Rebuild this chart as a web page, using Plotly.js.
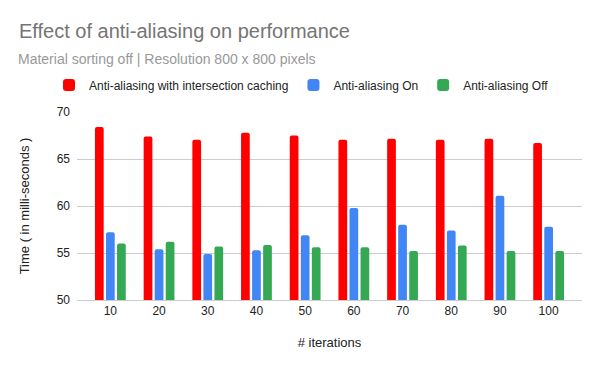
<!DOCTYPE html>
<html>
<head>
<meta charset="utf-8">
<script src="https://cdn.plot.ly/plotly-3.0.1.min.js"></script>
<style>html,body{margin:0;padding:0;background:#fff;}#chart{width:600px;height:371px;}</style>
</head>
<body>
<div id="chart"></div>
<script>
const iterations = ["10","20","30","40","50","60","70","80","90","100"];
const aaCaching = [68.4, 67.4, 67.05, 67.8, 67.5, 67.05, 67.15, 67.05, 67.15, 66.7];
const aaOn = [57.2, 55.4, 54.9, 55.3, 56.9, 59.8, 58.0, 57.4, 61.1, 57.8];
const aaOff = [56.0, 56.2, 55.7, 55.85, 55.6, 55.6, 55.2, 55.8, 55.2, 55.2];
const seriesNames = ["Anti-aliasing with intersection caching", "Anti-aliasing On", "Anti-aliasing Off"];
const colors = ["#ff0000", "#4285f4", "#34a853"];

const font = "'Liberation Sans', Arial, sans-serif";
const data = [aaCaching, aaOn, aaOff].map((vals, i) => ({
  type: "bar",
  x: iterations,
  y: vals,
  name: seriesNames[i],
  marker: {color: colors[i], cornerradius: 2},
  hoverinfo: "none"
}));

const layout = {
  width: 600, height: 371,
  margin: {l: 77, r: 18, t: 112, b: 71},
  paper_bgcolor: "#fff", plot_bgcolor: "#fff",
  font: {family: font, size: 12, color: "#222"},
  barmode: "group",
  bargap: 0.32,
  bargroupgap: 0.21,
  showlegend: true,
  title: {
    text: "Effect of anti-aliasing on performance",
    font: {family: font, size: 20, color: "#757575"},
    x: 19/600, xref: "container", xanchor: "left",
    y: 1 - 30.5/371, yref: "container", yanchor: "middle"
  },
  annotations: [{
    text: "Material sorting off | Resolution 800 x 800 pixels",
    font: {family: font, size: 14, color: "#999999"},
    xref: "paper", yref: "paper",
    x: (16-77)/505, xanchor: "left",
    y: 1 + (112-58.5)/188, yanchor: "middle",
    showarrow: false
  }],
  legend: {
    orientation: "h",
    xref: "container", yref: "container",
    x: 49/600, xanchor: "left",
    y: 1 - 85/371, yanchor: "middle",
    font: {family: font, size: 12, color: "#222"},
    itemwidth: 30,
    traceorder: "normal"
  },
  xaxis: {
    type: "category",
    range: [-0.685, 9.685],
    showgrid: false,
    showline: true, linecolor: "#ccc", linewidth: 1,
    ticks: "",
    tickfont: {family: font, size: 12, color: "#222"},
    title: {text: "# iterations", font: {family: font, size: 13, color: "#222"}, standoff: 20}
  },
  yaxis: {
    range: [50, 70],
    dtick: 5,
    tick0: 50,
    gridcolor: "#cccccc",
    zeroline: false,
    showline: false,
    ticks: "",
    ticklabelstandoff: 6,
    tickfont: {family: font, size: 12, color: "#222"},
    title: {text: "Time ( in milli-seconds )", font: {family: font, size: 13, color: "#222"}, standoff: 24}
  }
};

Plotly.newPlot("chart", data, layout, {displayModeBar: false, staticPlot: true});
</script>
</body>
</html>
